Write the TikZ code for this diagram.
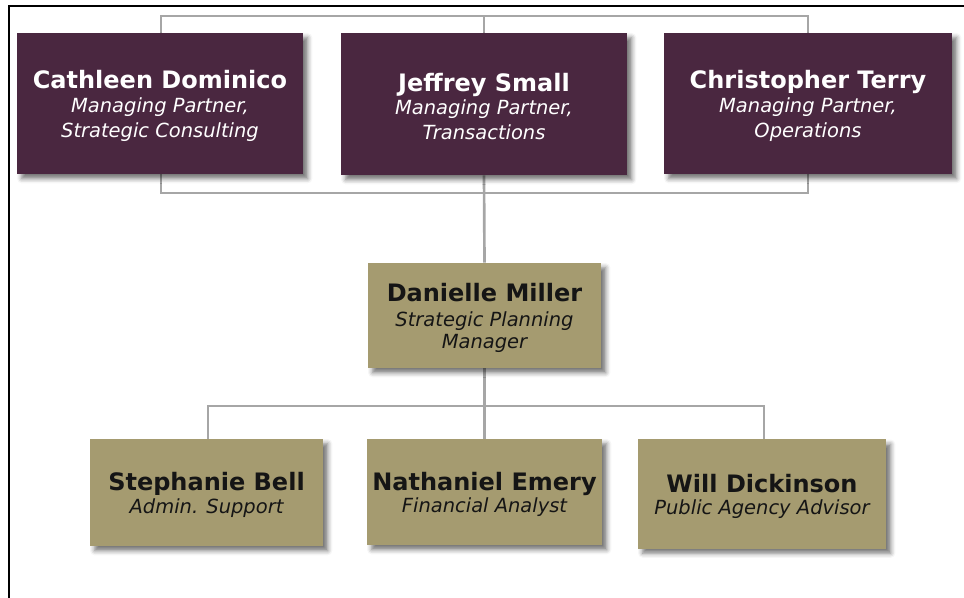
\documentclass[tikz,border=0pt]{standalone}
\usepackage{fontspec}
\setmainfont{DejaVu Sans}
\usetikzlibrary{shadows.blur,backgrounds}
\definecolor{maroon}{HTML}{4A2740}
\definecolor{khaki}{HTML}{A59B70}
\definecolor{conn}{HTML}{A6A6A6}
\definecolor{darktxt}{HTML}{151515}
\newcommand{\pname}[1]{{\bfseries\fontsize{18}{18.75}\selectfont\rule{0pt}{17.5pt}#1}}
\newcommand{\prole}[1]{{\itshape\fontsize{14.6}{18.75}\selectfont #1}}
\tikzset{
  box/.style={rectangle, inner sep=0pt, align=center,
    font=\fontsize{14.6}{18.75}\selectfont,
    blur shadow={shadow xshift=3.5pt, shadow yshift=-3.5pt, shadow blur radius=3.5pt, shadow opacity=55}},
  partner/.style={box, fill=maroon, text=white},
  staff/.style={box, fill=khaki, text=darktxt, font=\fontsize{14.6}{17.5}\selectfont},
  link/.style={draw=conn, line width=2pt},
  frameline/.style={draw=black, line width=1.6pt}
}
\begin{document}
\begin{tikzpicture}[x=0.75pt,y=-0.75pt]
\useasboundingbox (0,0) rectangle (964,598);
\draw[frameline] (964,6) -- (9,6) -- (9,598);
\node[partner, minimum width=214.5pt, minimum height=105.75pt] (cd) at (160,103.5)
  {\pname{Cathleen Dominico}\\[-1.2pt]\prole{Managing Partner,}\\\prole{Strategic Consulting}};
\node[partner, minimum width=214.5pt, minimum height=106.5pt] (js) at (484,104)
  {\pname{Jeffrey Small}\\[-1.2pt]\prole{Managing Partner,}\\\prole{Transactions}};
\node[partner, minimum width=216pt, minimum height=105.75pt] (ct) at (808,103.5)
  {\pname{Christopher Terry}\\[-1.2pt]\prole{Managing Partner,}\\\prole{Operations}};
\node[staff, minimum width=174.75pt, minimum height=78.75pt] (dm) at (484.5,315.5)
  {\pname{Danielle Miller}\\[1pt]\prole{Strategic Planning}\\[-1pt]\prole{Manager}};
\node[staff, minimum width=174.75pt, minimum height=80.25pt] (sbl) at (206.5,492.5)
  {\pname{Stephanie Bell}\\[-0.5pt]\prole{Admin. Support}};
\node[staff, minimum width=176.25pt, minimum height=79.5pt] (ne) at (484.5,492)
  {\pname{Nathaniel Emery}\\[-0.5pt]\prole{Financial Analyst}};
\node[staff, minimum width=186pt, minimum height=81.75pt] (wd) at (762,494)
  {\pname{Will Dickinson}\\[-0.5pt]\prole{Public Agency Advisor}};
\coordinate (tl) at (161,16);
\coordinate (tr) at (808,16);
\coordinate (bl) at (161,193);
\coordinate (br) at (808,193);
\coordinate (ml) at (208,406);
\coordinate (mr) at (764,406);
\begin{scope}[on background layer]
\draw[link] (cd.north -| tl) -- (tl) -- (tr) -- (ct.north -| tr);
\draw[link] (js.north) -- (js.north |- tl);
\draw[link] (cd.south -| bl) -- (bl) -- (br) -- (ct.south -| br);
\draw[link] (js.south) -- (dm.north);
\draw[link] (sbl.north -| ml) -- (ml) -- (mr) -- (wd.north -| mr);
\draw[link] (dm.south) -- (ne.north);
\end{scope}
\end{tikzpicture}
\end{document}
